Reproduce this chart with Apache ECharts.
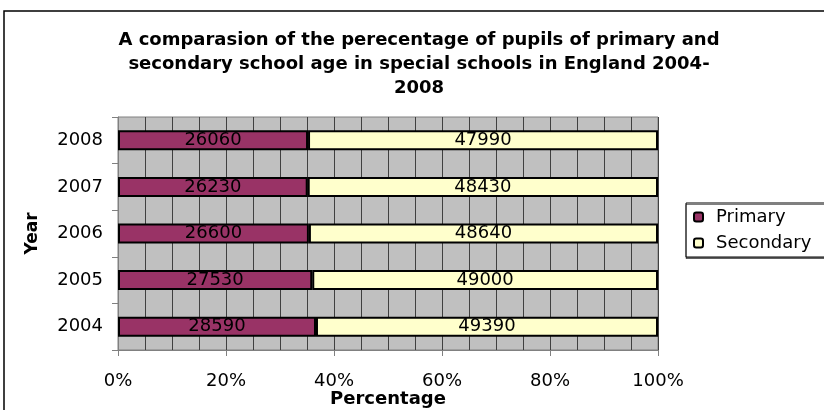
<!DOCTYPE html>
<html>
<head>
<meta charset="utf-8">
<script src="https://cdn.jsdelivr.net/npm/echarts@6/dist/echarts.min.js"></script>
<style>
  html, body { margin: 0; padding: 0; background: #fff; }
  #chart { width: 824px; height: 410px; }
</style>
</head>
<body>
<div id="chart"></div>
<script>
// data
var years = ["2004", "2005", "2006", "2007", "2008"];
var primary = [28590, 27530, 26600, 26230, 26060];
var secondary = [49390, 49000, 48640, 48430, 47990];

(function() {
  var myChart = echarts.init(document.getElementById("chart"));
  var font = "DejaVu Sans, Arial, sans-serif";

  // 100% stacked: share of each year's total
  function share(arr, i) {
    return arr[i] / (primary[i] + secondary[i]) * 100;
  }
  var primaryData = years.map(function(y, i) {
    return { value: share(primary, i), raw: primary[i] };
  });
  var secondaryData = years.map(function(y, i) {
    return { value: share(secondary, i), raw: secondary[i] };
  });

  var barLabel = {
    show: true,
    position: "inside",
    color: "#000",
    fontFamily: font,
    fontSize: 18,
    formatter: function(p) { return p.data.raw; }
  };

  var option = {
    animation: false,
    textStyle: { fontFamily: font },
    title: {
      text: "A comparasion of the perecentage of pupils of primary and\nsecondary school age in special schools in England 2004-\n2008",
      left: 414,
      textAlign: "center",
      top: 23,
      textStyle: {
        fontFamily: font,
        fontSize: 18,
        fontWeight: "bold",
        color: "#000",
        lineHeight: 24
      }
    },
    graphic: [
      {
        type: "rect",
        shape: { x: 4, y: 11, width: 900, height: 500 },
        style: { fill: "none", stroke: "#000", lineWidth: 1.5 },
        silent: true
      },
      {
        type: "rect",
        shape: { x: 686, y: 203, width: 200, height: 54 },
        style: { fill: "#fff", stroke: "#000", lineWidth: 1, shadowColor: "rgba(0,0,0,0.5)", shadowOffsetY: 1.5 },
        silent: true,
        z: 1
      }
    ],
    legend: {
      orient: "vertical",
      left: 693,
      top: 208,
      padding: 0,
      itemWidth: 9,
      itemHeight: 9,
      itemGap: 8,
      z: 5,
      textStyle: { fontFamily: font, fontSize: 18, color: "#000", padding: [0, 0, 0, 8] },
      data: [
        { name: "Primary", itemStyle: { color: "#993366", borderColor: "#000", borderWidth: 2 } },
        { name: "Secondary", itemStyle: { color: "#FFFFCC", borderColor: "#000", borderWidth: 2 } }
      ]
    },
    grid: {
      left: 118,
      right: 166,
      top: 117,
      bottom: 60,
      outerBoundsMode: "none",
      show: true,
      backgroundColor: "#C0C0C0",
      borderColor: "#808080",
      borderWidth: 1
    },
    xAxis: {
      type: "value",
      min: 0,
      max: 100,
      interval: 20,
      name: "Percentage",
      nameLocation: "middle",
      nameGap: 40,
      nameMoveOverlap: false,
      nameTextStyle: { fontFamily: font, fontSize: 18, fontWeight: "bold", color: "#000" },
      axisLine: { show: true, lineStyle: { color: "#808080", width: 1 } },
      axisTick: { show: true, length: 6, lineStyle: { color: "#808080" } },
      axisLabel: {
        margin: 22,
        fontFamily: font,
        fontSize: 18,
        color: "#000",
        formatter: "{value}%"
      },
      splitLine: { show: true, lineStyle: { color: "#404040", width: 1 } },
      minorTick: { show: false, splitNumber: 4 },
      minorSplitLine: { show: true, lineStyle: { color: "#404040", width: 1 } }
    },
    yAxis: {
      type: "category",
      data: years,
      name: "Year",
      nameLocation: "middle",
      nameRotate: 90,
      nameGap: 77,
      nameTextStyle: { fontFamily: font, fontSize: 17, fontWeight: "bold", color: "#000" },
      axisLine: { show: true, lineStyle: { color: "#808080", width: 1 } },
      axisTick: { show: true, length: 6, lineStyle: { color: "#808080" } },
      axisLabel: { margin: 15, fontFamily: font, fontSize: 18, color: "#000" },
      splitLine: { show: false }
    },
    series: [
      {
        name: "Primary",
        type: "bar",
        stack: "total",
        barWidth: 20,
        itemStyle: { color: "#993366", borderColor: "#000", borderWidth: 2 },
        label: barLabel,
        data: primaryData
      },
      {
        name: "Secondary",
        type: "bar",
        stack: "total",
        barWidth: 20,
        itemStyle: { color: "#FFFFCC", borderColor: "#000", borderWidth: 2 },
        label: barLabel,
        data: secondaryData
      }
    ]
  };

  myChart.setOption(option);
})();
</script>
</body>
</html>
